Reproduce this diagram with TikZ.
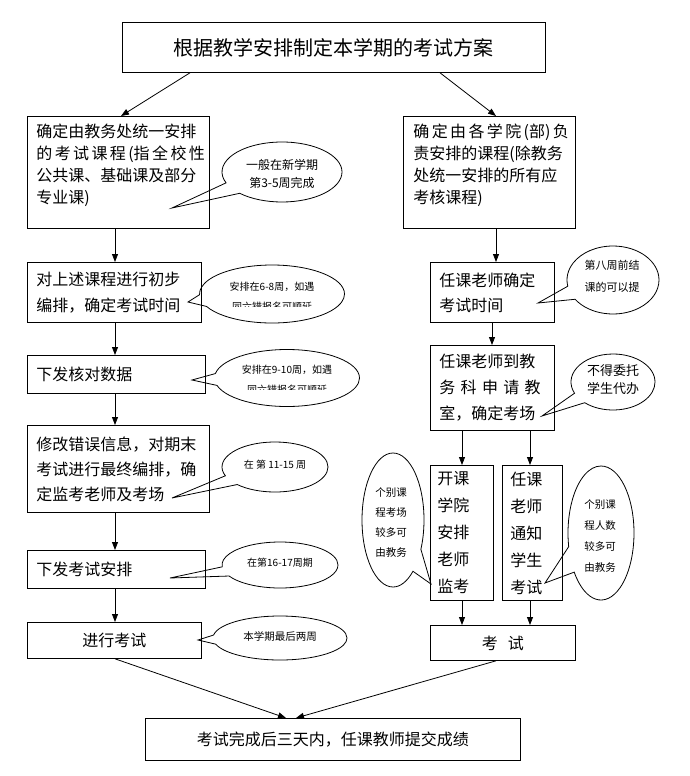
\documentclass[tikz,border=0pt]{standalone}
\usepackage{fontspec}
\newfontfamily\cjk{Noto Sans CJK SC}
\usetikzlibrary{arrows.meta,shapes.callouts}
\begin{document}
\begin{tikzpicture}[x=1pt,y=-1pt,
  box/.style={draw, line width=0.8pt, anchor=north west, inner xsep=9pt, inner ysep=0pt, align=left, font=\cjk\fontsize{16pt}{22pt}\selectfont},
  arr/.style={line width=0.8pt, -{Triangle[length=8pt,width=6pt]}},
  bub/.style={ellipse callout, draw, line width=0.8pt, inner sep=0pt, callout pointer arc=24},
  btxt/.style={align=center, inner sep=0pt}]
\useasboundingbox (0,0) rectangle (689,776);
\fill[white] (0,0) rectangle (689,776);

% ---- boxes ----
\node[box, minimum width=423pt, minimum height=50pt, align=center, font=\cjk\fontsize{20pt}{24pt}\selectfont] (top) at (122,22) {根据教学安排制定本学期的考试方案};

\node[box, minimum width=182pt, minimum height=112pt] (b1) at (27,116) {\parbox[c][96pt][t]{164pt}{确定由教务处统一安排\\\makebox[\linewidth][s]{的 考 试 课 程 (指 全 校 性}\\公共课、基础课及部分\\专业课)}};
\node[box, minimum width=174pt, minimum height=60pt, text width=156pt, font=\cjk\fontsize{16pt}{26pt}\selectfont] (b2) at (27,262) {对上述课程进行初步\\编排，确定考试时间};
\node[box, minimum width=178pt, minimum height=38pt, text width=160pt] (b3) at (27,355) {下发核对数据};
\node[box, minimum width=182pt, minimum height=87pt, text width=164pt, font=\cjk\fontsize{16pt}{25pt}\selectfont] (b4) at (27,425) {修改错误信息，对期末\\考试进行最终编排，确\\定监考老师及考场};
\node[box, minimum width=178pt, minimum height=38pt, text width=160pt] (b5) at (27,550) {下发考试安排};
\node[box, minimum width=174pt, minimum height=36pt, text width=156pt, align=center] (b6) at (27,622) {进行考试};

\node[box, minimum width=172pt, minimum height=112pt] (r1) at (403,116) {\parbox[c][96pt][t]{152pt}{\makebox[\linewidth][s]{确 定 由 各 学 院 (部) 负}\\责安排的课程(除教务\\处统一安排的所有应\\考核课程)}};
\node[box, minimum width=124pt, minimum height=60pt, text width=106pt, font=\cjk\fontsize{16pt}{25pt}\selectfont] (r2) at (430,262) {任课老师确定\\考试时间};
\node[box, minimum width=124pt, minimum height=85pt, text width=106pt, font=\cjk\fontsize{16pt}{26pt}\selectfont] (r3) at (430,345) {任课老师到教\\\makebox[96pt][s]{务 科 申 请 教}\\室，确定考场};
\node[box, minimum width=63pt, minimum height=135pt, inner xsep=7pt, text width=49pt, font=\cjk\fontsize{16pt}{27pt}\selectfont] (r4a) at (430,465) {开课\\学院\\安排\\老师\\监考};
\node[box, minimum width=60pt, minimum height=135pt, inner xsep=8pt, text width=44pt, font=\cjk\fontsize{16pt}{27pt}\selectfont] (r4b) at (502,465) {任课\\老师\\通知\\学生\\考试};
\node[box, minimum width=145pt, minimum height=35pt, text width=127pt, align=center] (r5) at (430,625) {考\hspace{10pt}试};

\node[box, minimum width=375pt, minimum height=42pt, align=center] (fin) at (145,718) {考试完成后三天内，任课教师提交成绩};

% ---- connector coordinates ----
\coordinate (ta) at (190,0);
\coordinate (tb) at (440,0);
\coordinate (la) at (121,0);
\coordinate (xl) at (115,0);
\coordinate (xr1) at (496,0);
\coordinate (xr2) at (492,0);
\coordinate (xa) at (462,0);
\coordinate (xb) at (530,0);
\coordinate (fa) at (286,0);
\coordinate (fb) at (296,0);

\draw[arr] (top.south -| ta) -- (b1.north -| la);
\draw[arr] (top.south -| tb) -- (r1.north -| xr1);
\draw[arr] (b1.south -| xl) -- (b2.north -| xl);
\draw[arr] (b2.south -| xl) -- (b3.north -| xl);
\draw[arr] (b3.south -| xl) -- (b4.north -| xl);
\draw[arr] (b4.south -| xl) -- (b5.north -| xl);
\draw[arr] (b5.south -| xl) -- (b6.north -| xl);
\draw[arr] (r1.south -| xr1) -- (r2.north -| xr1);
\draw[arr] (r2.south -| xr2) -- (r3.north -| xr2);
\draw[arr] (r3.south -| xa) -- (r4a.north -| xa);
\draw[arr] (r3.south -| xb) -- (r4b.north -| xb);
\draw[arr] (r4a.south -| xa) -- (r5.north -| xa);
\draw[arr] (r4b.south -| xb) -- (r5.north -| xb);
\draw[arr] (b6.south -| xl) -- (fin.north -| fa);
\draw[arr] (r5.south -| xr1) -- (fin.north -| fb);

% ---- callouts ----
\node[bub, minimum width=120pt, minimum height=60pt, callout absolute pointer={(172,208)}] (c1) at (282,172) {};
\begin{scope}
\clip (200,140) rectangle (360,187);
\node[btxt, font=\cjk\fontsize{12pt}{18pt}\selectfont] (c1t) at (282,174) {一般在新学期\\第3-5周完成};
\end{scope}

\node[bub, minimum width=145pt, minimum height=58pt, callout absolute pointer={(188,302)}] (c2) at (272,294) {};
\begin{scope}
\clip (200,260) rectangle (350,306);
\node[btxt, font=\cjk\fontsize{10pt}{20pt}\selectfont] (c2t) at (272,297) {安排在6-8周，如遇\\同六错报名可顺延};
\end{scope}

\node[bub, minimum width=145pt, minimum height=57pt, callout absolute pointer={(192,380)}] (c3) at (287,378) {};
\begin{scope}
\clip (215,345) rectangle (365,389);
\node[btxt, font=\cjk\fontsize{10pt}{20pt}\selectfont] (c3t) at (287,380) {安排在9-10周，如遇\\同六错报名可顺延};
\end{scope}

\node[bub, minimum width=106pt, minimum height=50pt, callout absolute pointer={(172,498)}] (c4) at (275,467) {};
\node[btxt, font=\cjk\fontsize{10pt}{12pt}\selectfont] (c4t) at (275,465) {在 第 11-15 周};

\node[bub, minimum width=116pt, minimum height=46pt, callout absolute pointer={(170,578)}] (c5) at (280,565) {};
\node[btxt, font=\cjk\fontsize{10pt}{12pt}\selectfont] (c5t) at (280,563) {在第16-17周期};

\node[bub, minimum width=134pt, minimum height=44pt, callout absolute pointer={(198,640)}] (c6) at (280,638) {};
\node[btxt, font=\cjk\fontsize{10.5pt}{12pt}\selectfont] (c6t) at (280,636) {本学期最后两周};

\node[bub, minimum width=92pt, minimum height=68pt, callout absolute pointer={(538,303)}] (cr2) at (613,280) {};
\node[btxt, font=\cjk\fontsize{11pt}{22pt}\selectfont] (cr2t) at (612,276) {第八周前结\\课的可以提};

\node[bub, minimum width=84pt, minimum height=56pt, callout absolute pointer={(542,416)}] (cr3) at (613,382) {};
\node[btxt, font=\cjk\fontsize{13pt}{18pt}\selectfont] (cr3t) at (613,380) {不得委托\\学生代办};

\node[bub, minimum width=62pt, minimum height=134pt, callout absolute pointer={(431,584)}] (cr4a) at (393,520) {};
\node[btxt, font=\cjk\fontsize{10.5pt}{20pt}\selectfont] (cr4at) at (391,523) {个别课\\程考场\\较多可\\由教务};

\node[bub, minimum width=66pt, minimum height=134pt, callout absolute pointer={(545,583)}] (cr4b) at (601,533) {};
\node[btxt, font=\cjk\fontsize{10.5pt}{21pt}\selectfont] (cr4bt) at (600,536) {个别课\\程人数\\较多可\\由教务};
\end{tikzpicture}
\end{document}
